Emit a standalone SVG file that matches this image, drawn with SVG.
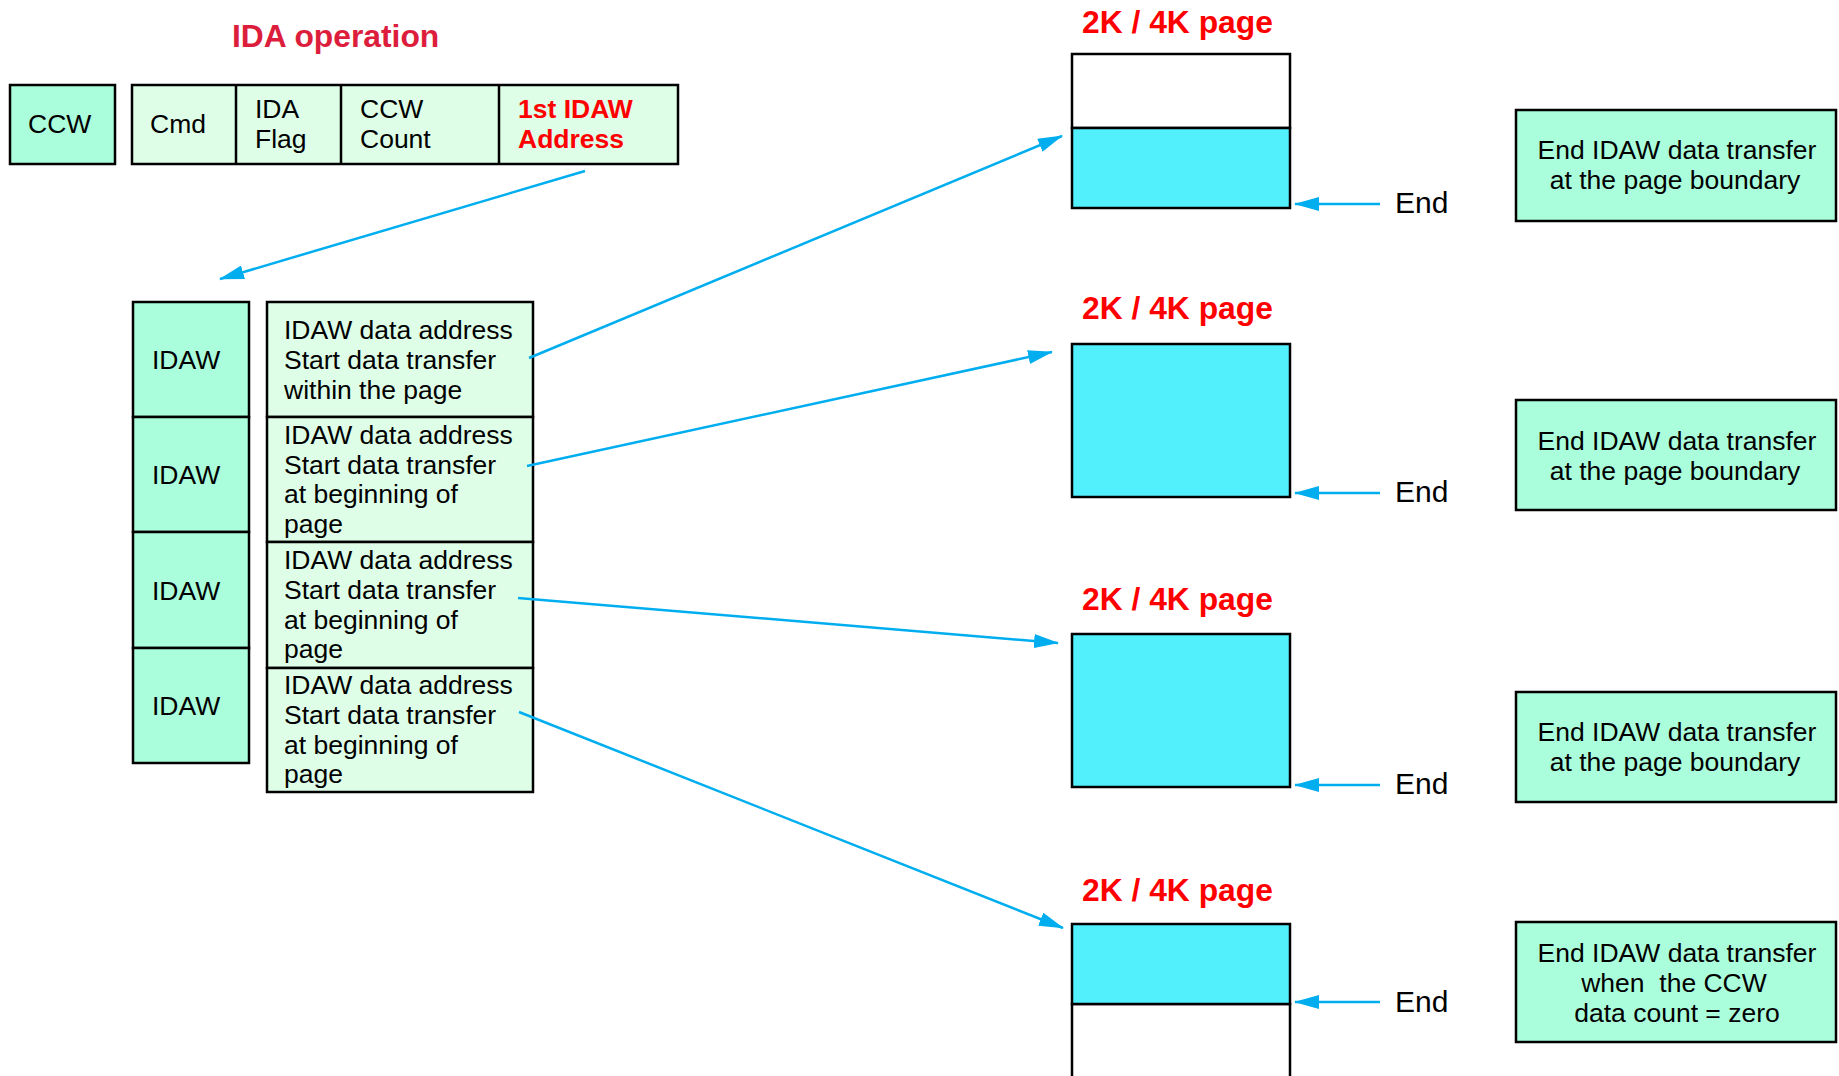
<svg xmlns="http://www.w3.org/2000/svg" width="1839" height="1076" viewBox="0 0 1839 1076">
<defs>
<style>
.box{stroke:#000;stroke-width:2.5}
.dark{fill:#abfedb}
.light{fill:#defee8}
.page{fill:#52f0fd;stroke:#000;stroke-width:2.5}
.blank{fill:#fff;stroke:#000;stroke-width:2.5}
.t{font-family:"Liberation Sans",Arial,sans-serif;font-size:26.5px;fill:#000}
.tc{font-family:"Liberation Sans",Arial,sans-serif;font-size:26.5px;fill:#000;text-anchor:middle;white-space:pre}
.red{font-family:"Liberation Sans",Arial,sans-serif;font-size:26.5px;font-weight:bold;fill:#ff0000}
.title{font-family:"Liberation Sans",Arial,sans-serif;font-size:31.8px;font-weight:bold;fill:#ff0000}
.end{font-family:"Liberation Sans",Arial,sans-serif;font-size:30px;fill:#000}
.conn{stroke:#00aef0;stroke-width:2.5;fill:none;marker-end:url(#ah)}
</style>
<marker id="ah" viewBox="0 0 25 14" refX="24" refY="7" markerWidth="25" markerHeight="14" markerUnits="userSpaceOnUse" orient="auto">
<path d="M0,0 L25,7 L0,14 z" fill="#00aef0"/>
</marker>
</defs>
<rect width="1839" height="1076" fill="#fff"/>

<text x="232" y="47" class="title" style="fill:#dc1e3c">IDA operation</text>

<g id="ccw">
<rect x="10" y="85" width="105" height="79" class="box dark"/>
<text x="28" y="133" class="t">CCW</text>
</g>
<g id="ccw-fields">
<rect x="132" y="85" width="546" height="79" class="box light"/>
<line x1="236" y1="85" x2="236" y2="164" class="box"/>
<line x1="341" y1="85" x2="341" y2="164" class="box"/>
<line x1="499" y1="85" x2="499" y2="164" class="box"/>
<text x="150" y="133" class="t">Cmd</text>
<text x="255" y="118" class="t">IDA</text>
<text x="255" y="148" class="t">Flag</text>
<text x="360" y="118" class="t">CCW</text>
<text x="360" y="148" class="t">Count</text>
<text x="518" y="118" class="red">1st IDAW</text>
<text x="518" y="148" class="red">Address</text>
</g>

<g id="idaw1">
<rect x="133" y="302" width="116" height="115" class="box dark"/>
<text x="152" y="369" class="t">IDAW</text>
</g>
<g id="idaw2">
<rect x="133" y="417" width="116" height="115" class="box dark"/>
<text x="152" y="484" class="t">IDAW</text>
</g>
<g id="idaw3">
<rect x="133" y="532" width="116" height="116" class="box dark"/>
<text x="152" y="600" class="t">IDAW</text>
</g>
<g id="idaw4">
<rect x="133" y="648" width="116" height="115" class="box dark"/>
<text x="152" y="715" class="t">IDAW</text>
</g>

<g id="desc1">
<rect x="267" y="302" width="266" height="115" class="box light"/>
<text x="284" y="339" class="t">IDAW data address</text>
<text x="284" y="369" class="t">Start data transfer</text>
<text x="284" y="399" class="t">within the page</text>
</g>
<g id="desc2">
<rect x="267" y="417" width="266" height="125" class="box light"/>
<text x="284" y="444" class="t">IDAW data address</text>
<text x="284" y="474" class="t">Start data transfer</text>
<text x="284" y="503" class="t">at beginning of</text>
<text x="284" y="533" class="t">page</text>
</g>
<g id="desc3">
<rect x="267" y="542" width="266" height="126" class="box light"/>
<text x="284" y="569" class="t">IDAW data address</text>
<text x="284" y="599" class="t">Start data transfer</text>
<text x="284" y="629" class="t">at beginning of</text>
<text x="284" y="658" class="t">page</text>
</g>
<g id="desc4">
<rect x="267" y="668" width="266" height="124" class="box light"/>
<text x="284" y="694" class="t">IDAW data address</text>
<text x="284" y="724" class="t">Start data transfer</text>
<text x="284" y="754" class="t">at beginning of</text>
<text x="284" y="783" class="t">page</text>
</g>

<g id="page1">
<text x="1082" y="33" class="title">2K / 4K page</text>
<rect x="1072" y="54" width="218" height="74" class="blank"/>
<rect x="1072" y="128" width="218" height="80" class="page"/>
<text x="1395" y="213" class="end">End</text>
</g>
<g id="page2">
<text x="1082" y="319" class="title">2K / 4K page</text>
<rect x="1072" y="344" width="218" height="153" class="page"/>
<text x="1395" y="502" class="end">End</text>
</g>
<g id="page3">
<text x="1082" y="610" class="title">2K / 4K page</text>
<rect x="1072" y="634" width="218" height="153" class="page"/>
<text x="1395" y="794" class="end">End</text>
</g>
<g id="page4">
<text x="1082" y="901" class="title">2K / 4K page</text>
<rect x="1072" y="1004" width="218" height="90" class="blank"/>
<rect x="1072" y="924" width="218" height="80" class="page"/>
<text x="1395" y="1012" class="end">End</text>
</g>

<g id="note1">
<rect x="1516" y="110" width="320" height="111" class="box dark"/>
<text x="1677" y="159" class="tc">End IDAW data transfer</text>
<text x="1675" y="189" class="tc">at the page boundary</text>
</g>
<g id="note2">
<rect x="1516" y="400" width="320" height="110" class="box dark"/>
<text x="1677" y="450" class="tc">End IDAW data transfer</text>
<text x="1675" y="480" class="tc">at the page boundary</text>
</g>
<g id="note3">
<rect x="1516" y="692" width="320" height="110" class="box dark"/>
<text x="1677" y="741" class="tc">End IDAW data transfer</text>
<text x="1675" y="771" class="tc">at the page boundary</text>
</g>
<g id="note4">
<rect x="1516" y="922" width="320" height="120" class="box dark"/>
<text x="1677" y="962" class="tc">End IDAW data transfer</text>
<text x="1674" y="992" class="tc" xml:space="preserve">when  the CCW</text>
<text x="1677" y="1022" class="tc">data count = zero</text>
</g>

<g id="connectors">
<line x1="585" y1="171" x2="220" y2="279" class="conn"/>
<line x1="529" y1="358" x2="1062" y2="136" class="conn"/>
<line x1="527" y1="466" x2="1052" y2="352" class="conn"/>
<line x1="518" y1="598" x2="1058" y2="643" class="conn"/>
<line x1="519" y1="712" x2="1063" y2="928" class="conn"/>
<line x1="1380" y1="204" x2="1295" y2="204" class="conn"/>
<line x1="1380" y1="493" x2="1295" y2="493" class="conn"/>
<line x1="1380" y1="785" x2="1295" y2="785" class="conn"/>
<line x1="1380" y1="1002" x2="1295" y2="1002" class="conn"/>
</g>
</svg>
